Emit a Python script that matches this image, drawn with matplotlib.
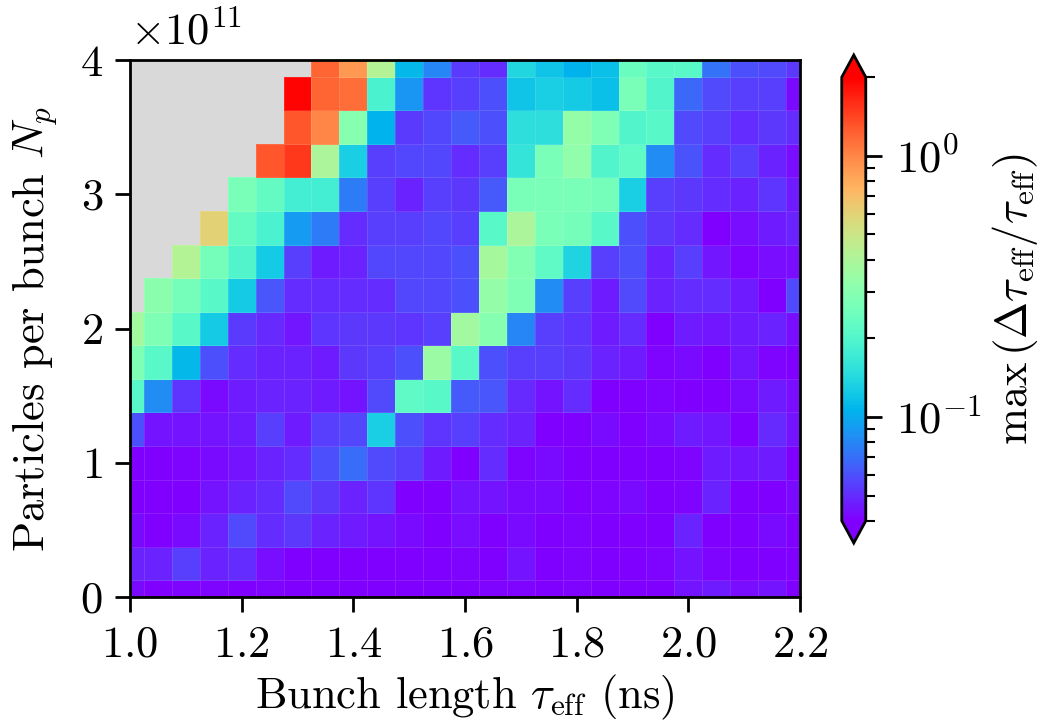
import numpy as np
import matplotlib
matplotlib.use("Agg")
import matplotlib.pyplot as plt
from matplotlib.colors import LogNorm

# scan grid: bunch length (ns) and bunch intensity (particles per bunch)
bunch_length = [1.00, 1.05, 1.10, 1.15, 1.20, 1.25, 1.30, 1.35, 1.40, 1.45,
                1.50, 1.55, 1.60, 1.65, 1.70, 1.75, 1.80, 1.85, 1.90, 1.95,
                2.00, 2.05, 2.10, 2.15, 2.20]
intensity = [0.0, 0.25, 0.5, 0.75, 1.0, 1.25, 1.5, 1.75, 2.0, 2.25,
             2.5, 2.75, 3.0, 3.25, 3.5, 3.75, 4.0]  # x1e11

nan = np.nan
# max relative bunch length oscillation, rows from Np = 4e11 down to 0
dtau_max = [
    [nan, nan, nan, nan, nan, nan, nan, 1.2, 0.9, 0.42, 0.11, 0.08, 0.054, 0.05, 0.14, 0.12, 0.105, 0.115, 0.24, 0.21, 0.21, 0.072, 0.06, 0.058, 0.053],
    [nan, nan, nan, nan, nan, nan, 1.95, 1.2, 1.15, 0.19, 0.088, 0.052, 0.055, 0.06, 0.12, 0.13, 0.125, 0.115, 0.27, 0.2, 0.068, 0.058, 0.055, 0.055, 0.042],
    [nan, nan, nan, nan, nan, nan, 1.3, 1.0, 0.3, 0.105, 0.054, 0.057, 0.063, 0.06, 0.15, 0.15, 0.33, 0.28, 0.2, 0.21, 0.058, 0.055, 0.05, 0.053, 0.05],
    [nan, nan, nan, nan, nan, 1.3, 1.5, 0.4, 0.13, 0.055, 0.057, 0.057, 0.05, 0.055, 0.16, 0.27, 0.32, 0.2, 0.22, 0.083, 0.061, 0.05, 0.055, 0.048, 0.043],
    [nan, nan, nan, nan, 0.27, 0.23, 0.18, 0.18, 0.075, 0.055, 0.048, 0.055, 0.053, 0.063, 0.27, 0.27, 0.27, 0.26, 0.13, 0.055, 0.053, 0.05, 0.048, 0.052, 0.046],
    [nan, nan, nan, 0.6, 0.23, 0.19, 0.09, 0.075, 0.05, 0.055, 0.055, 0.057, 0.055, 0.21, 0.4, 0.27, 0.26, 0.21, 0.06, 0.053, 0.05, 0.04, 0.043, 0.046, 0.048],
    [nan, nan, 0.42, 0.26, 0.2, 0.125, 0.055, 0.046, 0.048, 0.057, 0.057, 0.057, 0.06, 0.38, 0.29, 0.22, 0.135, 0.055, 0.06, 0.048, 0.055, 0.045, 0.041, 0.043, 0.043],
    [nan, 0.31, 0.26, 0.21, 0.125, 0.062, 0.05, 0.05, 0.05, 0.05, 0.057, 0.057, 0.06, 0.33, 0.28, 0.083, 0.055, 0.046, 0.058, 0.048, 0.05, 0.05, 0.046, 0.038, 0.058],
    [0.37, 0.28, 0.21, 0.125, 0.054, 0.049, 0.045, 0.052, 0.053, 0.053, 0.052, 0.055, 0.37, 0.3, 0.08, 0.055, 0.052, 0.046, 0.05, 0.04, 0.046, 0.045, 0.046, 0.048, 0.043],
    [0.28, 0.21, 0.11, 0.06, 0.05, 0.048, 0.048, 0.046, 0.053, 0.055, 0.06, 0.35, 0.21, 0.06, 0.055, 0.055, 0.053, 0.048, 0.046, 0.041, 0.042, 0.04, 0.045, 0.041, 0.04],
    [0.21, 0.083, 0.052, 0.042, 0.046, 0.048, 0.048, 0.046, 0.044, 0.058, 0.22, 0.21, 0.063, 0.062, 0.049, 0.044, 0.05, 0.04, 0.04, 0.041, 0.04, 0.04, 0.042, 0.046, 0.043],
    [0.06, 0.044, 0.044, 0.044, 0.046, 0.055, 0.046, 0.055, 0.057, 0.13, 0.06, 0.052, 0.055, 0.05, 0.048, 0.04, 0.04, 0.042, 0.04, 0.042, 0.046, 0.045, 0.04, 0.049, 0.044],
    [0.04, 0.04, 0.041, 0.042, 0.044, 0.048, 0.05, 0.06, 0.07, 0.058, 0.055, 0.046, 0.04, 0.05, 0.041, 0.042, 0.04, 0.04, 0.04, 0.04, 0.041, 0.046, 0.045, 0.046, 0.04],
    [0.04, 0.04, 0.04, 0.044, 0.048, 0.05, 0.058, 0.053, 0.048, 0.052, 0.04, 0.04, 0.044, 0.044, 0.042, 0.042, 0.04, 0.041, 0.042, 0.04, 0.041, 0.048, 0.04, 0.04, 0.042],
    [0.042, 0.04, 0.042, 0.048, 0.058, 0.05, 0.053, 0.048, 0.046, 0.044, 0.042, 0.04, 0.043, 0.04, 0.042, 0.04, 0.041, 0.04, 0.04, 0.04, 0.048, 0.04, 0.04, 0.042, 0.04],
    [0.048, 0.048, 0.055, 0.048, 0.05, 0.043, 0.038, 0.038, 0.038, 0.038, 0.04, 0.04, 0.041, 0.04, 0.044, 0.04, 0.041, 0.04, 0.04, 0.041, 0.044, 0.041, 0.04, 0.04, 0.04],
    [0.042, 0.04, 0.041, 0.041, 0.04, 0.041, 0.04, 0.04, 0.04, 0.04, 0.04, 0.04, 0.04, 0.041, 0.041, 0.04, 0.041, 0.04, 0.04, 0.04, 0.044, 0.046, 0.043, 0.044, 0.04],
]

plt.rcParams.update({
    'font.family': 'serif',
    'font.serif': ['cmr10'],
    'mathtext.fontset': 'cm',
    'axes.formatter.use_mathtext': True,
    'font.size': 32,
    'axes.linewidth': 2.0,
    'xtick.major.width': 2.0,
    'ytick.major.width': 2.0,
    'xtick.major.size': 10.5,
    'ytick.major.size': 10.5,
    'xtick.major.pad': 10,
    'ytick.major.pad': 9,
    'xtick.minor.width': 1.5,
    'ytick.minor.width': 1.5,
    'ytick.minor.size': 6.5,
})

Z = np.ma.masked_invalid(np.flipud(np.array(dtau_max)))
x = np.array(bunch_length)
y = np.array(intensity) * 1e11

fig = plt.figure(figsize=(10.45, 7.24), dpi=100)
ax = fig.add_axes([0.1244, 0.1754, 0.6412, 0.7417])
ax.set_facecolor('0.85')

mesh = ax.pcolormesh(x, y, Z, shading='nearest', cmap='rainbow',
                     norm=LogNorm(vmin=0.04, vmax=2.0), linewidth=0.5)
# faint seams between the filled cells only
ec = np.tile([1.0, 1.0, 1.0, 0.12], (Z.size, 1))
ec[np.ma.getmaskarray(Z).ravel()] = [0, 0, 0, 0]
mesh.set_edgecolor(ec)

ax.set_xlim(1.0, 2.2)
ax.set_ylim(0, 4e11)
ax.set_xticks([1.0, 1.2, 1.4, 1.6, 1.8, 2.0, 2.2])
ax.set_yticks([0, 1e11, 2e11, 3e11, 4e11])
ax.yaxis.OFFSETTEXTPAD = 11
ax.set_xlabel(r'Bunch length $\tau_\mathrm{eff}$ (ns)', labelpad=5)
ax.set_ylabel(r'Particles per bunch $N_p$', labelpad=14)

cax = fig.add_axes([0.8055, 0.25, 0.023, 0.674])
cb = fig.colorbar(mesh, cax=cax, extend='both')
cb.outline.set_linewidth(2.0)
cb.ax.tick_params(which='major', length=11.5, width=2, pad=10)
cb.ax.tick_params(which='minor', length=6.5, width=1.5)
cb.set_label(r'$\max\,\left(\Delta\tau_\mathrm{eff}/\tau_\mathrm{eff}\right)$',
             labelpad=6)

fig.savefig('out.png', dpi=100)
